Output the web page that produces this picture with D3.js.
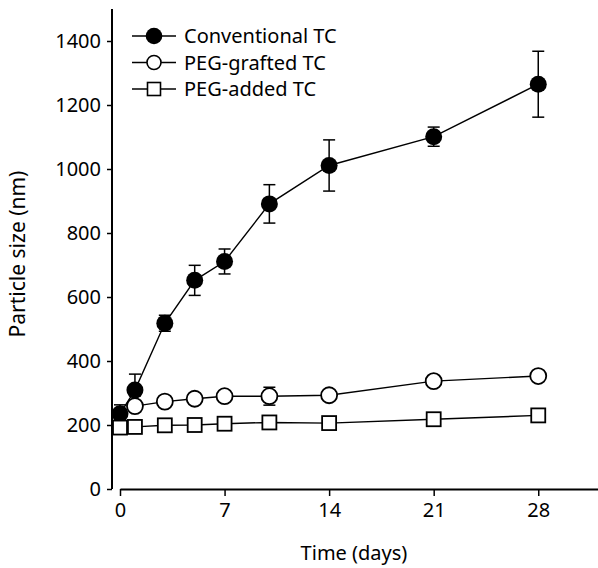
<!DOCTYPE html>
<html>
<head>
<meta charset="utf-8">
<title>Particle size over time</title>
<script src="https://d3js.org/d3.v7.min.js"></script>
<style>
  body { margin: 0; background: #fff; }
  text { font-family: "Noto Sans", "Open Sans", sans-serif; fill: #000; }
</style>
</head>
<body>
<div id="chart"></div>
<script>
// data
var days = [0, 1, 3, 5, 7, 10, 14, 21, 28];
var conventional = [235, 309, 518, 652, 711, 891, 1011, 1101, 1265];
var conventionalErr = [28, 50, 25, 47, 39, 60, 80, 30, 103];
var graftedDays = [1, 3, 5, 7, 10, 14, 21, 28];
var grafted = [259, 273, 282, 290, 290, 293, 337, 353];
var graftedErr = [0, 0, 0, 0, 28, 0, 0, 0];
var added = [192, 194, 199, 200, 204, 208, 206, 218, 230];
var xTicks = [0, 7, 14, 21, 28];
var yTicks = [0, 200, 400, 600, 800, 1000, 1200, 1400];
var legendLabels = ["Conventional TC", "PEG-grafted TC", "PEG-added TC"];

var W = 598, H = 568;

var svg = d3.select("#chart")
  .append("svg")
    .attr("width", W)
    .attr("height", H);

var x = d3.scaleLinear().domain([0, 32]).range([120, 598]);
var y = d3.scaleLinear().domain([0, 1500]).range([489, 9]);

// y axis (offset from x axis like the original)
var yAxis = svg.append("g")
  .attr("transform", "translate(112,0)")
  .call(d3.axisLeft(y).tickValues(yTicks).tickFormat(d3.format("d"))
    .tickSize(5).tickPadding(6).tickSizeOuter(0));
yAxis.select(".domain").attr("d", "M0," + y(1500) + "V" + y(0)).attr("stroke-width", 2);
yAxis.selectAll(".tick line").attr("stroke-width", 1.5);
yAxis.selectAll("text").style("font-size", "20px");

// x axis
var xAxis = svg.append("g")
  .attr("transform", "translate(0,489)")
  .call(d3.axisBottom(x).tickValues(xTicks).tickFormat(d3.format("d"))
    .tickSize(7).tickPadding(7).tickSizeOuter(0));
xAxis.select(".domain").attr("stroke-width", 2);
xAxis.selectAll(".tick line").attr("stroke-width", 1.5);
xAxis.selectAll("text").style("font-size", "20px");

svg.append("text")
  .attr("x", 354)
  .attr("y", 560)
  .attr("text-anchor", "middle")
  .style("font-size", "20px")
  .text("Time (days)");

svg.append("text")
  .attr("transform", "translate(25,254) rotate(-90)")
  .attr("text-anchor", "middle")
  .style("font-size", "21px")
  .text("Particle size (nm)");

var line = d3.line()
  .x(function(d) { return x(d[0]); })
  .y(function(d) { return y(d[1]); });

function zip(a, b, e) {
  return a.map(function(v, i) { return [v, b[i], e ? e[i] : 0]; });
}

var convData = zip(days, conventional, conventionalErr);
var graftData = zip(graftedDays, grafted, graftedErr);
var addData = zip(days, added);

// connecting lines
[convData, graftData, addData].forEach(function(s) {
  svg.append("path")
    .datum(s)
    .attr("d", line)
    .attr("fill", "none")
    .attr("stroke", "#000")
    .attr("stroke-width", 1.4);
});

// error bars
function errorBars(s) {
  var g = svg.append("g").attr("stroke", "#000").attr("stroke-width", 1.5);
  s.filter(function(d) { return d[2] > 0; }).forEach(function(d) {
    var cx = x(d[0]), top = y(d[1] + d[2]), bot = y(d[1] - d[2]);
    g.append("line").attr("x1", cx).attr("x2", cx).attr("y1", top).attr("y2", bot);
    g.append("line").attr("x1", cx - 6).attr("x2", cx + 6).attr("y1", top).attr("y2", top);
    g.append("line").attr("x1", cx - 6).attr("x2", cx + 6).attr("y1", bot).attr("y2", bot);
  });
}
errorBars(convData);
errorBars(graftData);

// markers
svg.append("g").selectAll("circle")
  .data(convData).enter()
  .append("circle")
    .attr("cx", function(d) { return x(d[0]); })
    .attr("cy", function(d) { return y(d[1]); })
    .attr("r", 8.5)
    .attr("fill", "#000");

svg.append("g").selectAll("rect")
  .data(addData).enter()
  .append("rect")
    .attr("x", function(d) { return x(d[0]) - 7; })
    .attr("y", function(d) { return y(d[1]) - 7; })
    .attr("width", 14)
    .attr("height", 14)
    .attr("fill", "#fff")
    .attr("stroke", "#000")
    .attr("stroke-width", 1.8);

svg.append("g").selectAll("circle")
  .data(graftData).enter()
  .append("circle")
    .attr("cx", function(d) { return x(d[0]); })
    .attr("cy", function(d) { return y(d[1]); })
    .attr("r", 8)
    .attr("fill", "#fff")
    .attr("stroke", "#000")
    .attr("stroke-width", 1.8);

// legend
var legend = svg.append("g");
legendLabels.forEach(function(lab, i) {
  var ly = 36 + i * 26.5;
  legend.append("line")
    .attr("x1", 132).attr("x2", 176)
    .attr("y1", ly).attr("y2", ly)
    .attr("stroke", "#000").attr("stroke-width", 1.4);
  if (i === 0) {
    legend.append("circle").attr("cx", 154).attr("cy", ly).attr("r", 8.3).attr("fill", "#000");
  } else if (i === 1) {
    legend.append("circle").attr("cx", 154).attr("cy", ly).attr("r", 7)
      .attr("fill", "#fff").attr("stroke", "#000").attr("stroke-width", 1.6);
  } else {
    legend.append("rect").attr("x", 147.5).attr("y", ly - 6.5).attr("width", 13).attr("height", 13)
      .attr("fill", "#fff").attr("stroke", "#000").attr("stroke-width", 1.6);
  }
  legend.append("text")
    .attr("x", 184)
    .attr("y", ly)
    .attr("dy", "0.36em")
    .style("font-size", "20px")
    .text(lab);
});
</script>
</body>
</html>
